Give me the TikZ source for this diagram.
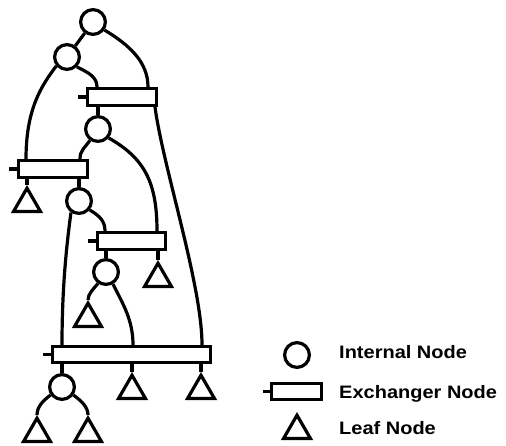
\documentclass[tikz,border=0pt]{standalone}
\usepackage{fontspec}
\setmainfont{Liberation Sans}
\usetikzlibrary{shapes.geometric,calc}
\begin{document}
\begin{tikzpicture}[x=1pt,y=-1pt,
  inode/.style={circle,draw,line width=3.2pt,minimum size=24.8pt,inner sep=0pt},
  xnode/.style={rectangle,draw,line width=3.2pt,inner sep=0pt,minimum height=16.8pt},
  lnode/.style={regular polygon,regular polygon sides=3,draw,line width=3.2pt,inner sep=0pt,minimum size=31pt},
  edge/.style={line width=3.2pt},
  lbl/.style={anchor=base west,inner sep=0pt,font=\fontsize{20}{24}\selectfont\bfseries}]
\useasboundingbox (0,0) rectangle (506,446);
% internal nodes
\node[inode] (c1) at (93,22) {};
\node[inode] (c2) at (67,57) {};
\node[inode] (c3) at (98,129) {};
\node[inode] (c4) at (79,201) {};
\node[inode] (c5) at (106,272) {};
\node[inode] (c6) at (62,387) {};
% exchanger nodes
\node[xnode,minimum width=68.8pt] (e1) at (122,97) {};
\node[xnode,minimum width=68.8pt] (e2) at (53,169) {};
\node[xnode,minimum width=67.8pt] (e3) at (131.5,241) {};
\node[xnode,minimum width=157.8pt,minimum height=15.8pt] (e4) at (131.5,354.5) {};
\draw[edge] (e1.west) -- ++(-8,0);
\draw[edge] (e2.west) -- ++(-8,0);
\draw[edge] (e3.west) -- ++(-8,0);
\draw[edge] (e4.west) -- ++(-8,0);
% leaf nodes
\node[lnode] (t1) at (27,203.7) {};
\node[lnode] (t2) at (158,278.7) {};
\node[lnode] (t3) at (88,318.7) {};
\node[lnode] (t4) at (132,390.7) {};
\node[lnode] (t5) at (201,390.7) {};
\node[lnode] (t6) at (37,433.7) {};
\node[lnode] (t7) at (88,433.7) {};
% connectors
\draw[edge] (c1) -- (c2);
\draw[edge] (c1.-35) .. controls +(25,15) and +(0,-25) .. ($(e1.north west)+(62,0)$);
\draw[edge] ($(e1.south west)+(69,0)$) .. controls +(8,60) and +(0,-60) .. ($(e4.north west)+(151,0)$);
\draw[edge] (c2.220) .. controls +(-15,20) and +(0,-50) .. ($(e2.north west)+(9,0)$);
\draw[edge] (c2.-45) .. controls +(12,6) and +(0,-10) .. ($(e1.north west)+(11,0)$);
\draw[edge] (c3 |- e1.south) -- (c3.north);
\draw[edge] (c3.235) .. controls +(-6,8) and +(0,-8) .. ($(e2.north west)+(63,0)$);
\draw[edge] (c3.-40) .. controls +(35,20) and +(0,-50) .. ($(e3.north west)+(61,0)$);
\draw[edge] (t1.corner 1 |- e2.south) -- (t1.corner 1);
\draw[edge] (c4 |- e2.south) -- (c4.north);
\draw[edge] (c4.235) .. controls +(-4,30) and +(0,-60) .. ($(e4.north west)+(11,0)$);
\draw[edge] (c4.-40) .. controls +(10,6) and +(0,-10) .. ($(e3.north west)+(9,0)$);
\draw[edge] (c5 |- e3.south) -- (c5.north);
\draw[edge] (t2.corner 1 |- e3.south) -- (t2.corner 1);
\draw[edge] (c5.235) .. controls +(-5,6) and +(0,-6) .. (t3.corner 1);
\draw[edge] (c5.-60) .. controls +(10,20) and +(0,-25) .. ($(e4.north west)+(82,0)$);
\draw[edge] (c6 |- e4.south) -- (c6.north);
\draw[edge] (t4.corner 1 |- e4.south) -- (t4.corner 1);
\draw[edge] (t5.corner 1 |- e4.south) -- (t5.corner 1);
\draw[edge] (c6.215) .. controls +(-8,6) and +(0,-8) .. (t6.corner 1);
\draw[edge] (c6.-35) .. controls +(8,6) and +(0,-8) .. (t7.corner 1);
% legend
\node[inode] (lc) at (297,355) {};
\node[xnode,minimum width=49.8pt,minimum height=15.8pt] (lx) at (296.5,391.5) {};
\draw[edge] (lx.west) -- ++(-7,0);
\node[lnode] (lt) at (297,430.7) {};
\node[lbl] (l1) at (339,359) {\scalebox{1}[0.9]{Internal Node}};
\node[lbl] (l2) at (339,398) {\scalebox{1}[0.9]{Exchanger Node}};
\node[lbl] (l3) at (339,434) {\scalebox{1}[0.9]{Leaf Node}};
\end{tikzpicture}
\end{document}
